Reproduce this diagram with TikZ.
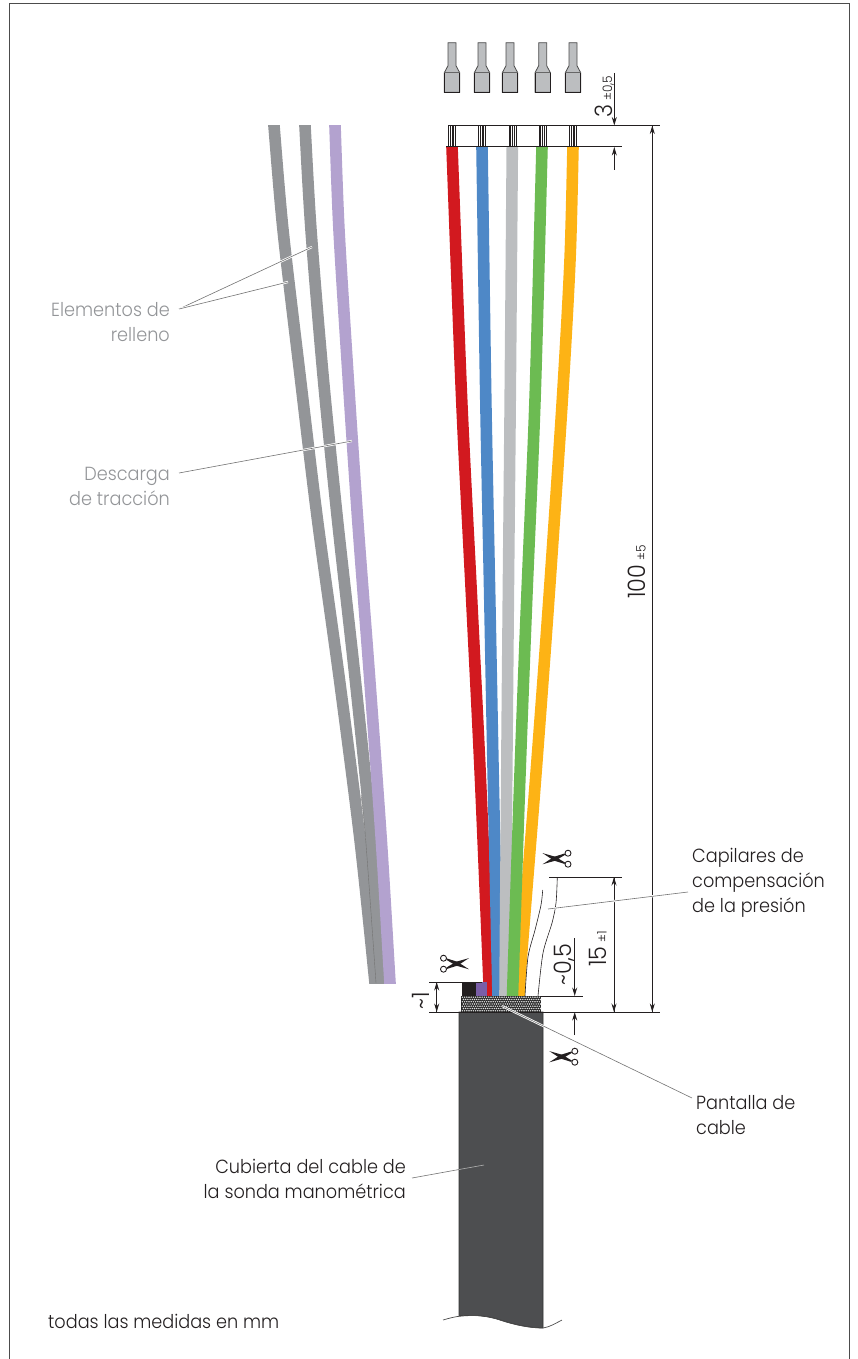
\documentclass[tikz,border=0pt]{standalone}
\usepackage{fontspec}
\setmainfont{Poppins}[UprightFont=* Light,FakeStretch=0.93]
\usetikzlibrary{arrows.meta}
\definecolor{cred}{HTML}{D2191F}
\definecolor{cblue}{HTML}{4E88C7}
\definecolor{cgrey}{HTML}{BCBEC0}
\definecolor{cgreen}{HTML}{6CBB52}
\definecolor{corange}{HTML}{FDB315}
\definecolor{cstrand}{HTML}{939598}
\definecolor{cpurple}{HTML}{B3A2CF}
\definecolor{cblack}{HTML}{231F20}
\definecolor{cviolet}{HTML}{7A5EA8}
\definecolor{ccable}{HTML}{4D4E50}
\definecolor{clabel}{HTML}{939598}
\tikzset{
  x=1pt,y=-1pt,
  wire/.style={line width=11.6pt,line cap=butt},
  dim/.style={line width=1pt,cblack},
  dimtip/.style={dim,-{Stealth[length=8.5pt,width=5pt]}},
  leader/.style={line width=0.6pt,draw=black!55},
  halo/.style={line width=2.2pt,draw=white},
  lbl/.style={font=\fontsize{19}{25}\selectfont,text=cblack,inner sep=0pt},
  glbl/.style={lbl,text=clabel,align=right},
  dimtxt/.style={font=\fontsize{24}{25}\selectfont,text=cblack,inner sep=0pt,rotate=90,anchor=base west},
  ferrule/.pic={
    \filldraw[fill=cgrey,draw=black!70,line width=0.8pt]
      (-4,-30) -- (4,-30) -- (4,-7) -- (7.7,0) -- (7.7,19.6) -- (-7.7,19.6) -- (-7.7,0) -- (-4,-7) -- cycle;
    \draw[black!60,line width=1.2pt] (-7.7,0) -- (7.7,0);
    \draw[cblack,line width=0.9pt] (-7.7,0) -- (-7.7,19.6) -- (7.7,19.6) -- (7.7,0);
  },
  scissor/.pic={
    \fill[cblack] (-14,-5.6) -- (-1,-1.9) -- (8.6,3.9) -- (8,5.2) -- (-2.5,1.9) -- cycle;
    \fill[cblack] (-14,5.6) -- (-1,1.9) -- (8.6,-3.9) -- (8,-5.2) -- (-2.5,-1.9) -- cycle;
    \draw[cblack,line width=0.9pt] (11.5,5.5) circle[radius=3];
    \draw[cblack,line width=0.9pt] (11.5,-5.5) circle[radius=3];
  }
}
\newcommand{\leaderline}[2]{\draw[halo] (#1) -- (#2); \draw[leader] (#1) -- (#2);}
\begin{document}
\begin{tikzpicture}
\useasboundingbox (0,0) rectangle (857,1359);
% frame
\draw[black!70,line width=1pt] (9,1359) -- (9,4) -- (849,4) -- (849,1359);
% ---- loose strands
\begin{scope}
\clip (200,126) rectangle (420,983);
\draw[wire,cstrand] plot[smooth] coordinates {(272,100) (274,126) (283,230) (300,375) (317.5,520) (339.5,680) (360,840) (375,983) (377,1010)};
\draw[wire,cstrand] plot[smooth] coordinates {(304,100) (305,126) (311,230) (323,375) (337.5,520) (355.3,680) (371.5,840) (382,983) (384,1010)};
\draw[wire,cpurple] plot[smooth] coordinates {(334,100) (335,126) (339,230) (348,375) (357.7,520) (369.8,680) (381.3,840) (390,983) (392,1010)};
\draw[black!55,line width=0.4pt] plot[smooth] coordinates {(361,795) (365.7,840) (376,983)};
\end{scope}
% ---- coloured wires
\begin{scope}
\clip (430,147) rectangle (600,996);
\draw[wire,corange] plot[smooth] coordinates {(573.5,120) (573,147) (570,260) (562.3,400) (548.8,600) (535.5,780) (522,950) (519,996) (517,1020)};
\draw[wire,cred] plot[smooth] coordinates {(451,120) (452,147) (461.7,400) (471.7,600) (480.5,780) (489.5,996) (490,1020)};
\draw[wire,cblue] plot[smooth] coordinates {(481.5,120) (482,147) (485.8,400) (489.8,600) (493.3,780) (498,996) (498.5,1020)};
\draw[wire,cgrey] plot[smooth] coordinates {(512.5,120) (512.3,147) (510.2,400) (508.3,600) (506.7,780) (505,996) (505,1020)};
\draw[wire,cgreen] plot[smooth] coordinates {(542.5,120) (542,147) (535,400) (526.7,600) (519.8,780) (512.5,996) (512,1020)};
\end{scope}
% ---- wire stripes
\foreach \c in {452,482,512.5,542.5,573}{
  \foreach \d in {-3.6,-1.8,0,1.8,3.6}{
    \draw[cblack,line width=0.8pt] (\c+\d,126) -- (\c+\d,147);
  }
}
% ---- ferrules
\foreach \c in {452,482,510,542.7,573}{ \pic at (\c,72.7) {ferrule}; }
% ---- cable
\filldraw[fill=ccable,draw=black!80,line width=0.8pt] (459,1012) -- (543,1012) -- (543,1328)
  .. controls (530,1328) and (515,1325) .. (500,1320)
  .. controls (485,1315) and (470,1315) .. (459,1316) -- cycle;
\fill[white] (458,1316.6) .. controls (470,1315.6) and (485,1315.6) .. (500,1320.6) .. controls (515,1325.6) and (530,1328.6) .. (544,1328.6) -- (544,1335) -- (458,1335) -- cycle;
\draw[black!70,line width=0.7pt] (443,1320) .. controls (450,1318) and (455,1316.5) .. (462,1316)
  .. controls (475,1315) and (485,1315) .. (500,1320)
  .. controls (515,1325) and (530,1328) .. (543,1328) .. controls (550,1327) and (556,1323) .. (562,1320);
% ---- shield
\fill[black!85] (461,996) rectangle (541,1012);
\foreach \i in {0,...,35}{
  \foreach \j in {0,...,6}{
    \fill[white!88!black] ({462.4+\i*2.2+mod(\j,2)*1.1},{997.2+\j*2.25}) circle[radius=0.8];
  }
}
% ---- cut ends
\fill[cblack] (462,982) rectangle (476,996);
\fill[cviolet] (476,982) rectangle (487,996);
% ---- capillaries
\draw[cblack,line width=0.6pt] plot[smooth] coordinates {(542.7,890) (541,905) (535,930) (528,957) (525,996)};
\draw[cblack,line width=0.6pt] plot[smooth] coordinates {(557.3,877) (556,903) (552,923) (543,953) (538,996)};
% ---- dimension coordinates
\coordinate (a1) at (614.3,73); \coordinate (a2) at (614.3,125.5);
\coordinate (a3) at (614.3,147); \coordinate (a4) at (614.3,170);
\coordinate (b1) at (652.3,125.5); \coordinate (b2) at (652.3,1012);
\coordinate (c1) at (614,877); \coordinate (c2) at (614,1012);
\coordinate (d1) at (574.7,938); \coordinate (d2) at (574.7,996);
\coordinate (d3) at (574.7,1012); \coordinate (d4) at (574.7,1035);
\coordinate (e1) at (436.7,982); \coordinate (e2) at (436.7,1012);
% extension lines
\draw[dim] (448,125.5) -- (660,125.5);
\draw[dim] (446,146.8) -- (622,146.8);
\draw[dim] (549,877) -- (622,877);
\draw[dim] (429,1012) -- (660,1012);
\draw[dim] (541,996) -- (583,996);
\draw[dim] (429,982) -- (482,982);
% arrows
\draw[dimtip] (a1) -- (a2);
\draw[dimtip] (a4) -- (a3);
\draw[dimtip] (b2) -- (b1);
\draw[dimtip] (b1) -- (b2);
\draw[dimtip] (c1) -- (c2);
\draw[dimtip] (c2) -- (c1);
\draw[dimtip] (d1) -- (d2);
\draw[dimtip] (d4) -- (d3);
\draw[dimtip] (e1) -- (e2);
\draw[dimtip] (e2) -- (e1);
% dimension texts
\node[dimtxt] (t3) at (612,118) {3\,{\fontsize{13}{13}\selectfont ±0,5}};
\node[dimtxt] (t100) at (645.5,599) {100\,{\fontsize{13}{13}\selectfont ±5}};
\node[dimtxt] (t15) at (606.7,967) {15\,{\fontsize{13}{13}\selectfont ±1}};
\node[dimtxt] (t05) at (571,986) {\textasciitilde 0,5};
\node[dimtxt] (t1) at (429,1010) {\textasciitilde 1};
% scissors
\pic at (556.5,858.7) {scissor};
\pic[rotate=180] at (455,963.7) {scissor};
\pic at (563.3,1056.7) {scissor};
% labels
\node[glbl,anchor=east] (elem) at (170,322) {Elementos de\\relleno};
\node[glbl,anchor=east] (desc) at (170,486) {Descarga\\de tracción};
\node[lbl,align=left,anchor=west] (cap) at (692,882.5) {Capilares de\\compensación\\de la presión};
\node[lbl,align=left,anchor=west] (pan) at (696,1115.5) {Pantalla de\\cable};
\node[lbl,align=right,anchor=east] (cub) at (406,1179) {Cubierta del cable de\\la sonda manométrica};
\node[lbl,anchor=west] (tod) at (48,1321) {todas las medidas en mm};
% leader lines
\coordinate (l1) at (179,309); \coordinate (l2) at (312,247); \coordinate (l3) at (288,282);
\coordinate (l4) at (179,473); \coordinate (l5) at (352,441);
\coordinate (l6) at (548,909); \coordinate (l7) at (688,892);
\coordinate (l8) at (502,1006); \coordinate (l9) at (692,1098);
\coordinate (l10) at (412,1178); \coordinate (l11) at (484,1165);
\leaderline{l1}{l2}
\leaderline{l1}{l3}
\leaderline{l4}{l5}
\leaderline{l6}{l7}
\leaderline{l8}{l9}
\draw[leader] (l10) -- (459,1169.5);
\draw[line width=0.6pt,draw=white!70!black] (459,1169.5) -- (l11);
\end{tikzpicture}
\end{document}
